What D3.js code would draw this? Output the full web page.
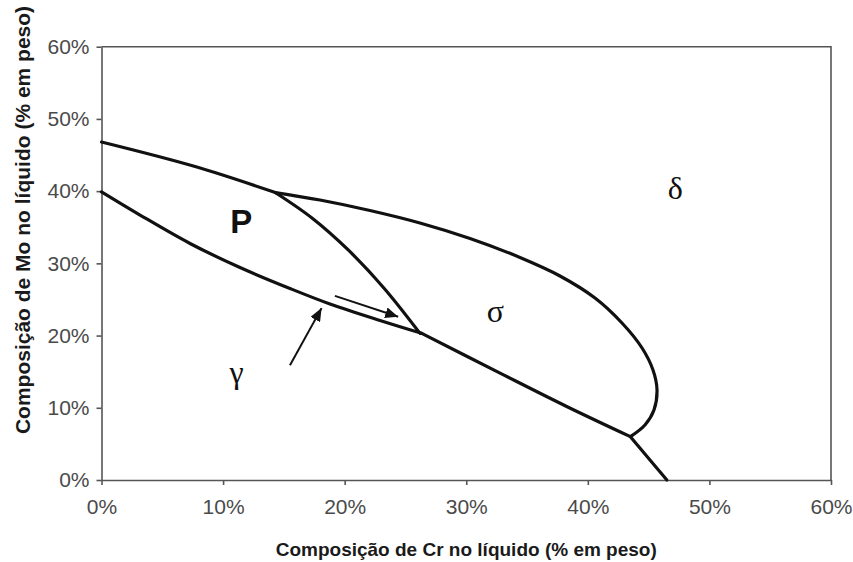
<!DOCTYPE html>
<html>
<head>
<meta charset="utf-8">
<script src="https://cdn.jsdelivr.net/npm/d3@7/dist/d3.min.js"></script>
<style>
  html, body { margin: 0; padding: 0; background: #fff; }
  svg { display: block; }
</style>
</head>
<body>
<svg id="chart" width="853" height="562"></svg>
<script>
// Liquidus projection, Cr–Mo composition of the liquid (weight fraction)
const xTicks = [0, 0.1, 0.2, 0.3, 0.4, 0.5, 0.6];
const yTicks = [0, 0.1, 0.2, 0.3, 0.4, 0.5, 0.6];

// L / P boundary (upper line, Mo-axis to the P–σ–δ junction)
const pDeltaBoundary = [[0, 0.468], [0.077, 0.434], [0.143, 0.398]];
// P / γ boundary (lower line, Mo-axis to the P–σ–γ junction)
const pGammaBoundary = [
  [0, 0.399], [0.0317, 0.3669], [0.0728, 0.3275], [0.1139, 0.2942],
  [0.155, 0.2652], [0.1879, 0.2437], [0.2291, 0.2209], [0.2634, 0.2031]
];
// σ / γ boundary
const sigmaGammaBoundary = [[0.2634, 0.2031], [0.3278, 0.1480], [0.3826, 0.1018], [0.435, 0.060]];
// δ / γ boundary, down to the Cr-axis
const deltaGammaBoundary = [[0.435, 0.060], [0.465, 0.0]];
// P / σ boundary
const pSigmaBoundary = [[0.1435, 0.3974], [0.1731, 0.3628], [0.2027, 0.3189], [0.2324, 0.2656], [0.262, 0.2030]];
// σ / δ boundary (closed loop round the σ field)
const sigmaDeltaBoundary = [
  [0.143, 0.398], [0.1797, 0.3877], [0.2208, 0.3732], [0.2619, 0.3559], [0.3031, 0.3344],
  [0.3442, 0.3081], [0.3771, 0.2825], [0.4059, 0.2520], [0.4281, 0.2174], [0.4446, 0.1828],
  [0.4536, 0.1523], [0.4569, 0.1246], [0.4544, 0.0969], [0.4470, 0.0762], [0.435, 0.060]
];

const phaseLabels = [
  { text: "P", x: 0.115, y: 0.342, serif: false },
  { text: "δ", x: 0.472, y: 0.389, serif: true },
  { text: "σ", x: 0.324, y: 0.219, serif: true },
  { text: "γ", x: 0.111, y: 0.134, serif: true }
];

const arrows = [
  { from: [0.155, 0.159], to: [0.181, 0.238] },
  { from: [0.192, 0.255], to: [0.244, 0.226] }
];

const xTitle = "Composição de Cr no líquido (% em peso)";
const yTitle = "Composição de Mo no líquido (% em peso)";

const svg = d3.select("#chart");
const plotLeft = 101.5, plotRight = 831, plotTop = 46.7, plotBottom = 480;

const x = d3.scaleLinear().domain([0, 0.6]).range([plotLeft, plotRight]);
const y = d3.scaleLinear().domain([0, 0.6]).range([plotBottom, plotTop]);

const axisColor = "#555";
const labelFont = "Liberation Sans, Arial, sans-serif";

// frame: top and right borders
svg.append("path")
  .attr("d", `M${plotLeft},${plotTop}H${plotRight}V${plotBottom}`)
  .attr("fill", "none").attr("stroke", axisColor).attr("stroke-width", 1.6);

const fmt = d3.format(".0%");

const gx = svg.append("g").attr("transform", `translate(0,${plotBottom})`)
  .call(d3.axisBottom(x).tickValues(xTicks).tickFormat(fmt).tickSize(5).tickSizeOuter(0).tickPadding(14));
const gy = svg.append("g").attr("transform", `translate(${plotLeft},0)`)
  .call(d3.axisLeft(y).tickValues(yTicks).tickFormat(fmt).tickSize(5).tickSizeOuter(0).tickPadding(7));

[gx, gy].forEach(g => {
  g.attr("font-size", null).attr("font-family", null);
  g.select(".domain").attr("stroke", axisColor).attr("stroke-width", 1.6);
  g.selectAll(".tick line").attr("stroke", axisColor).attr("stroke-width", 1.6);
  g.selectAll(".tick text")
    .attr("fill", "#4a4a4a")
    .style("font-family", labelFont)
    .style("font-size", "21px");
});

// axis titles
svg.append("text")
  .attr("x", (plotLeft + plotRight) / 2).attr("y", 556)
  .attr("text-anchor", "middle")
  .style("font-family", labelFont).style("font-size", "19px").style("font-weight", "bold")
  .attr("fill", "#1a1a1a")
  .text(xTitle);

svg.append("text")
  .attr("transform", `translate(30,220) rotate(-90)`)
  .attr("text-anchor", "middle")
  .style("font-family", labelFont).style("font-size", "21px").style("font-weight", "bold")
  .attr("fill", "#1a1a1a")
  .text(yTitle);

// phase boundaries
const smooth = d3.line()
  .x(d => x(d[0])).y(d => y(d[1]))
  .curve(d3.curveCatmullRom.alpha(0.5));

[pDeltaBoundary, pGammaBoundary, sigmaGammaBoundary, deltaGammaBoundary,
 pSigmaBoundary, sigmaDeltaBoundary].forEach(pts => {
  svg.append("path")
    .attr("d", smooth(pts))
    .attr("fill", "none")
    .attr("stroke", "#111")
    .attr("stroke-width", 3.2)
    .attr("stroke-linejoin", "round")
    .attr("stroke-linecap", "round");
});

// arrows
svg.append("defs").append("marker")
  .attr("id", "head")
  .attr("viewBox", "0 0 13 11")
  .attr("refX", 13).attr("refY", 5.5)
  .attr("markerWidth", 13).attr("markerHeight", 11)
  .attr("markerUnits", "userSpaceOnUse")
  .attr("orient", "auto")
  .append("path").attr("d", "M0,0L13,5.5L0,11Z").attr("fill", "#111");

arrows.forEach(a => {
  svg.append("line")
    .attr("x1", x(a.from[0])).attr("y1", y(a.from[1]))
    .attr("x2", x(a.to[0])).attr("y2", y(a.to[1]))
    .attr("stroke", "#111").attr("stroke-width", 2)
    .attr("marker-end", "url(#head)");
});

// phase field labels
phaseLabels.forEach(l => {
  svg.append("text")
    .attr("x", x(l.x)).attr("y", y(l.y))
    .attr("text-anchor", "middle")
    .style("font-family", l.serif ? "Liberation Serif, Times New Roman, serif" : labelFont)
    .style("font-weight", l.serif ? "normal" : "bold")
    .style("font-size", l.serif ? "32px" : "33px")
    .attr("fill", "#111")
    .text(l.text);
});
</script>
</body>
</html>
